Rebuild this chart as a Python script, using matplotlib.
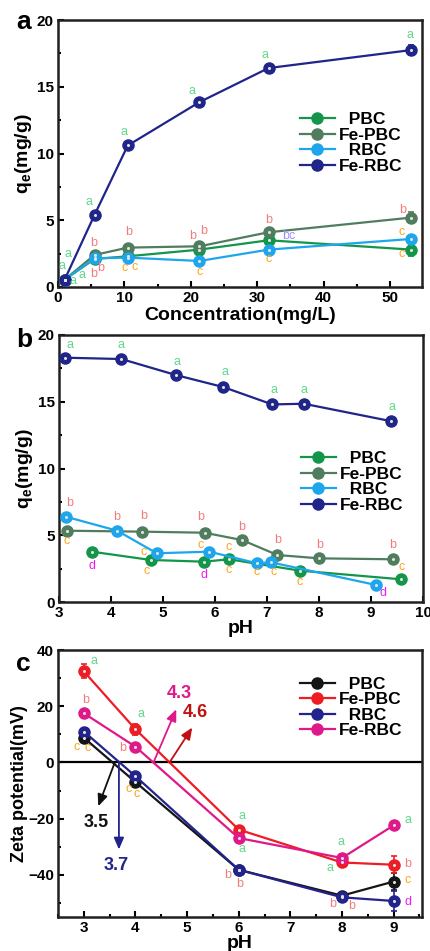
import numpy as np
import matplotlib.pyplot as plt
from matplotlib.ticker import MultipleLocator

plt.rcParams['font.family'] = ['Liberation Sans', 'DejaVu Sans']
plt.rcParams['font.weight'] = 'bold'
plt.rcParams['axes.labelweight'] = 'bold'

# ---- panel a: adsorption vs concentration
conc = [1.0, 5.5, 10.5, 21.3, 31.7, 53.2]
a_pbc = [0.55, 2.1, 2.3, 2.8, 3.5, 2.8]
a_fepbc = [0.55, 2.4, 2.95, 3.05, 4.1, 5.2]
a_rbc = [0.55, 2.15, 2.2, 1.95, 2.8, 3.6]
a_ferbc = [0.55, 5.4, 10.6, 13.85, 16.4, 17.75]
a_err_pbc = [0, 0, 0, 0.2, 0.2, 0.45]
a_err_fepbc = [0, 0, 0, 0.2, 0.15, 0.4]
a_err_rbc = [0, 0, 0, 0, 0, 0.1]
a_err_ferbc = [0.1, 0.1, 0.1, 0.1, 0.2, 0.35]

a_letters = [
    (0.55, 1.6, 'a'), (1.55, 2.45, 'a'), (2.3, 0.45, 'a'), (3.6, 0.9, 'a'),
    (4.6, 6.4, 'a'), (5.4, 3.3, 'b'), (5.4, 0.97, 'b'), (6.4, 1.4, 'b'),
    (10.0, 11.6, 'a'), (10.6, 4.1, 'b'), (10.0, 1.4, 'c'), (11.6, 1.5, 'c'),
    (20.2, 14.7, 'a'), (20.2, 3.8, 'b'), (21.9, 4.2, 'b'), (21.3, 1.15, 'c'),
    (31.1, 17.4, 'a'), (31.7, 5.0, 'b'), (34.7, 3.8, 'bc'), (31.7, 2.1, 'c'),
    (53.0, 18.9, 'a'), (51.9, 5.8, 'b'), (51.8, 4.1, 'c'), (51.8, 2.5, 'c'),
]

# ---- panel b: adsorption vs pH
b_ph_pbc = [3.63, 4.76, 5.79, 6.27, 7.63, 9.58]
b_pbc = [3.77, 3.15, 3.02, 3.2, 2.35, 1.7]
b_ph_fepbc = [3.15, 4.59, 5.8, 6.52, 7.2, 8.0, 9.42]
b_fepbc = [5.34, 5.27, 5.19, 4.64, 3.52, 3.27, 3.2]
b_ph_rbc = [3.13, 4.12, 4.88, 5.89, 6.81, 7.08, 9.1]
b_rbc = [6.39, 5.34, 3.65, 3.77, 2.9, 2.97, 1.27]
b_ph_ferbc = [3.11, 4.2, 5.25, 6.16, 7.1, 7.71, 9.38]
b_ferbc = [18.3, 18.2, 17.0, 16.1, 14.8, 14.85, 13.55]

b_letters = [
    (3.21, 19.25, 'a'), (4.2, 19.25, 'a'), (5.26, 18.0, 'a'), (6.2, 17.25, 'a'),
    (7.13, 15.9, 'a'), (7.71, 15.9, 'a'), (9.41, 14.6, 'a'),
    (3.21, 7.4, 'b'), (3.15, 4.57, 'c'), (3.63, 2.7, 'd'),
    (4.1, 6.4, 'b'), (4.62, 6.44, 'b'), (4.62, 3.77, 'c'), (4.69, 2.32, 'c'),
    (5.73, 6.4, 'b'), (5.73, 4.27, 'c'), (5.78, 2.02, 'd'),
    (6.52, 5.64, 'b'), (6.27, 4.14, 'c'), (6.27, 2.4, 'c'),
    (7.2, 4.64, 'b'), (6.81, 2.27, 'c'), (7.13, 2.27, 'c'), (7.63, 1.52, 'c'),
    (8.02, 4.27, 'b'), (9.42, 4.27, 'b'), (9.59, 2.65, 'c'), (9.24, 0.7, 'd'),
]

# ---- panel c: zeta potential
c_ph = [3, 4, 6, 8, 9]
c_pbc = [8.8, -7.0, -38.2, -47.4, -42.4]
c_fepbc = [32.4, 11.8, -23.9, -35.6, -36.4]
c_rbc = [11.0, -4.9, -38.2, -48.0, -49.3]
c_ferbc = [17.5, 5.6, -26.9, -34.0, -22.4]
c_err_pbc = [1.0, 1.0, 1.0, 1.0, 3.0]
c_err_fepbc = [2.5, 2.0, 1.0, 1.5, 3.0]
c_err_rbc = [1.0, 1.0, 1.0, 1.0, 3.5]
c_err_ferbc = [1.0, 1.0, 1.0, 1.5, 1.0]

c_letters = [
    (3.19, 36.0, 'a'), (3.04, 22.3, 'b'), (2.86, 5.6, 'c'), (3.08, 5.2, 'c'),
    (4.1, 17.1, 'a'), (3.76, 5.2, 'b'), (3.86, -9.6, 'c'), (4.02, -11.4, 'c'),
    (6.07, -19.2, 'a'), (6.07, -30.8, 'a'), (5.78, -40.2, 'b'), (6.02, -43.2, 'b'),
    (7.98, -28.3, 'a'), (7.76, -37.4, 'a'), (7.82, -50.5, 'b'), (8.18, -51.0, 'b'),
    (9.27, -20.4, 'a'), (9.27, -36.0, 'b'), (9.27, -42.0, 'c'), (9.27, -49.5, 'd'),
]

# isoelectric points: (pH at zero, arrow tip x, arrow tip y, label)
iep_labels = [(3.6, 3.28, -15.6, '3.5'), (3.68, 3.68, -31.0, '3.7'),
              (4.35, 4.79, 18.9, '4.3'), (4.66, 5.1, 12.4, '4.6')]
iep_colors = ['#111111', '#22238c', '#e0198a', '#c01010']

leg_names = ['  PBC', 'Fe-PBC', '  RBC', 'Fe-RBC']
ab_colors = ['#13964a', '#4f7d5e', '#1ea6ec', '#1f2589']
c_colors = ['#151515', '#ee1c24', '#22238c', '#e0198a']
letter_colors = {'a': '#5fd98a', 'b': '#f47c7c', 'c': '#ffa21a',
                 'd': '#f01af0', 'bc': '#a08cff'}

fig = plt.figure(figsize=(4.3, 9.51), dpi=100)
W, H = 430.0, 951.0


def add_ax(left, top, right, bottom):
    return fig.add_axes([left / W, 1 - bottom / H, (right - left) / W, (bottom - top) / H])


ax_a = add_ax(58, 20, 422, 287)
ax_b = add_ax(59, 335, 423, 602)
ax_c = add_ax(58, 650, 422, 917)


def series(ax, x, y, color, label, err=None):
    if err is not None:
        ax.errorbar(x, y, yerr=err, fmt='none', ecolor=color, capsize=2.5,
                    elinewidth=1.2, capthick=1.2, zorder=3)
    ax.plot(x, y, color=color, lw=1.6, marker='o', ms=8, mec=color, mfc=color,
            label=label, zorder=3)
    ax.plot(x, y, ls='none', marker='o', ms=2.2, mfc='#e4e4e4', mec='none', zorder=4)


def style(ax):
    for s in ax.spines.values():
        s.set_linewidth(1.8)
        s.set_color('#231f20')
    ax.tick_params(which='both', direction='in', top=False, right=False,
                   labelsize=11, width=1.5, pad=3)
    ax.tick_params(which='major', length=4)
    ax.tick_params(which='minor', length=2.5)
    for t in ax.get_xticklabels() + ax.get_yticklabels():
        t.set_fontweight('bold')


def letters(ax, items):
    for x, y, s in items:
        ax.text(x, y, s, color=letter_colors[s], fontsize=9, ha='center', va='center',
                fontweight='normal', zorder=5)


def legend(ax, y_anchor):
    leg = ax.legend(loc='upper left', bbox_to_anchor=(0.665, y_anchor), frameon=False,
                    fontsize=12.5, handlelength=2.0, handletextpad=0.25, labelspacing=0.02,
                    borderaxespad=0, borderpad=0)
    for t in leg.get_texts():
        t.set_fontweight('bold')
    return leg


# panel a
series(ax_a, conc, a_pbc, ab_colors[0], leg_names[0], a_err_pbc)
series(ax_a, conc, a_fepbc, ab_colors[1], leg_names[1], a_err_fepbc)
series(ax_a, conc, a_rbc, ab_colors[2], leg_names[2], a_err_rbc)
series(ax_a, conc, a_ferbc, ab_colors[3], leg_names[3], a_err_ferbc)
letters(ax_a, a_letters)
ax_a.set_xlim(0, 54.8)
ax_a.set_ylim(0, 20)
ax_a.xaxis.set_major_locator(MultipleLocator(10))
ax_a.xaxis.set_minor_locator(MultipleLocator(5))
ax_a.yaxis.set_major_locator(MultipleLocator(5))
ax_a.yaxis.set_minor_locator(MultipleLocator(2.5))
ax_a.set_xlabel('Concentration(mg/L)', fontsize=14, labelpad=1)
ax_a.set_ylabel('q$_\\mathregular{e}$(mg/g)', fontsize=14, labelpad=2)
style(ax_a)
legend(ax_a, 0.655)

# panel b
series(ax_b, b_ph_pbc, b_pbc, ab_colors[0], leg_names[0])
series(ax_b, b_ph_fepbc, b_fepbc, ab_colors[1], leg_names[1])
series(ax_b, b_ph_rbc, b_rbc, ab_colors[2], leg_names[2])
series(ax_b, b_ph_ferbc, b_ferbc, ab_colors[3], leg_names[3])
letters(ax_b, b_letters)
ax_b.set_xlim(3, 10)
ax_b.set_ylim(0, 20)
ax_b.xaxis.set_major_locator(MultipleLocator(1))
ax_b.yaxis.set_major_locator(MultipleLocator(5))
ax_b.yaxis.set_minor_locator(MultipleLocator(2.5))
ax_b.set_xlabel('pH', fontsize=14, labelpad=0)
ax_b.set_ylabel('q$_\\mathregular{e}$(mg/g)', fontsize=14, labelpad=2)
style(ax_b)
legend(ax_b, 0.565)

# panel c
ax_c.axhline(0, color='black', lw=1.6, zorder=2)
series(ax_c, c_ph, c_pbc, c_colors[0], leg_names[0], c_err_pbc)
series(ax_c, c_ph, c_fepbc, c_colors[1], leg_names[1], c_err_fepbc)
series(ax_c, c_ph, c_rbc, c_colors[2], leg_names[2], c_err_rbc)
series(ax_c, c_ph, c_ferbc, c_colors[3], leg_names[3], c_err_ferbc)
letters(ax_c, c_letters)
for (x0, xt, yt, lab), col in zip(iep_labels, iep_colors):
    ax_c.annotate('', xy=(xt, yt), xytext=(x0, 0),
                  arrowprops=dict(arrowstyle='-|>,head_length=0.7,head_width=0.3',
                                  color=col, lw=1.3, shrinkA=0, shrinkB=0), zorder=6)
    ty = yt - 5.8 if yt < 0 else yt + 5.5
    ax_c.text(xt + 0.05 if yt > 0 else xt - 0.05, ty, lab, color=col, fontsize=13,
              fontweight='bold', ha='center', va='center')
ax_c.set_xlim(2.5, 9.55)
ax_c.set_ylim(-55, 40)
ax_c.xaxis.set_major_locator(MultipleLocator(1))
ax_c.xaxis.set_minor_locator(MultipleLocator(0.5))
ax_c.yaxis.set_major_locator(MultipleLocator(20))
ax_c.yaxis.set_minor_locator(MultipleLocator(10))
ax_c.set_xlabel('pH', fontsize=14, labelpad=0)
ax_c.set_ylabel('Zeta potential(mV)', fontsize=13, labelpad=0)
style(ax_c)
legend(ax_c, 0.9)

# panel letters
fig.text(16 / W, 1 - 22 / H, 'a', fontsize=19, fontweight='bold', va='center')
fig.text(16 / W, 1 - 340 / H, 'b', fontsize=19, fontweight='bold', va='center')
fig.text(16 / W, 1 - 664 / H, 'c', fontsize=19, fontweight='bold', va='center')

fig.savefig('out.png', dpi=100)
